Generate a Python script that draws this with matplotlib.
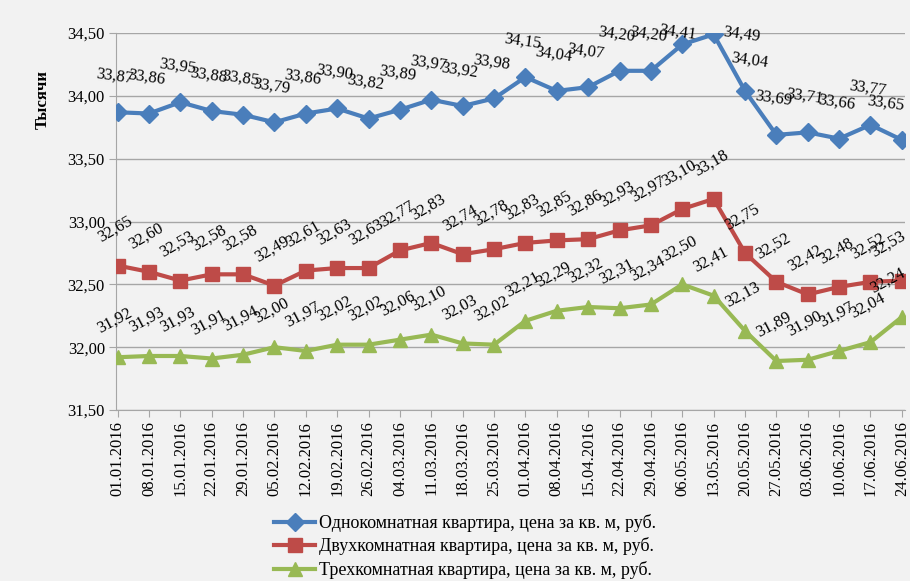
import matplotlib
matplotlib.use("Agg")
import matplotlib.pyplot as plt

plt.rcParams['font.family'] = ['Liberation Serif', 'DejaVu Serif']

dates = ["01.01.2016", "08.01.2016", "15.01.2016", "22.01.2016", "29.01.2016",
         "05.02.2016", "12.02.2016", "19.02.2016", "26.02.2016", "04.03.2016",
         "11.03.2016", "18.03.2016", "25.03.2016", "01.04.2016", "08.04.2016",
         "15.04.2016", "22.04.2016", "29.04.2016", "06.05.2016", "13.05.2016",
         "20.05.2016", "27.05.2016", "03.06.2016", "10.06.2016", "17.06.2016",
         "24.06.2016"]

one_room = [33.87, 33.86, 33.95, 33.88, 33.85, 33.79, 33.86, 33.90, 33.82, 33.89,
            33.97, 33.92, 33.98, 34.15, 34.04, 34.07, 34.20, 34.20, 34.41, 34.49,
            34.04, 33.69, 33.71, 33.66, 33.77, 33.65]
two_room = [32.65, 32.60, 32.53, 32.58, 32.58, 32.49, 32.61, 32.63, 32.63, 32.77,
            32.83, 32.74, 32.78, 32.83, 32.85, 32.86, 32.93, 32.97, 33.10, 33.18,
            32.75, 32.52, 32.42, 32.48, 32.52, 32.53]
three_room = [31.92, 31.93, 31.93, 31.91, 31.94, 32.00, 31.97, 32.02, 32.02, 32.06,
              32.10, 32.03, 32.02, 32.21, 32.29, 32.32, 32.31, 32.34, 32.50, 32.41,
              32.13, 31.89, 31.90, 31.97, 32.04, 32.24]

series = [
    ("Однокомнатная квартира, цена за кв. м, руб.", one_room, "#4A7EBB", "D", 9, -8),
    ("Двухкомнатная квартира, цена за кв. м, руб.", two_room, "#BE4B48", "s", 10, 30),
    ("Трехкомнатная квартира, цена за кв. м, руб.", three_room, "#98B954", "^", 10, 28),
]

# labels near the chart edges are shifted so they stay inside
special_offsets = {(0, 18): (-3, 9), (0, 19): (20, 0), (0, 20): (3, 22),
                   (0, 25): (-12, 26), (1, 25): (-10, 26), (2, 25): (-10, 26)}

bg = "#F2F2F2"
fig = plt.figure(figsize=(9.1, 5.81), dpi=100, facecolor=bg)
ax = fig.add_axes([0.1275, 0.2943, 0.867, 0.6487], facecolor=bg)

x = list(range(len(dates)))
for si, (name, vals, col, mk, ms, rot) in enumerate(series):
    ax.plot(x, vals, color=col, lw=3, marker=mk, markersize=ms, label=name, zorder=3)
    for xi, v in zip(x, vals):
        off = special_offsets.get((si, xi), (-2, 26))
        ax.annotate(f"{v:.2f}".replace(".", ","), (xi, v), xytext=off,
                    textcoords="offset points", ha="center", va="center",
                    rotation=rot, fontsize=12, color="black", zorder=4)

ax.set_ylim(31.5, 34.5)
ax.set_xlim(-0.05, len(dates) - 0.9)
yt = [31.5, 32.0, 32.5, 33.0, 33.5, 34.0, 34.5]
ax.set_yticks(yt)
ax.set_yticklabels([f"{v:.2f}".replace(".", ",") for v in yt], fontsize=12)
ax.set_xticks(x)
ax.set_xticklabels(dates, rotation=90, fontsize=12)
ax.grid(axis="y", color="#A6A6A6", lw=1)
ax.set_axisbelow(True)
for s in ["top", "right"]:
    ax.spines[s].set_visible(False)
for s in ["left", "bottom"]:
    ax.spines[s].set_color("#A6A6A6")
ax.tick_params(axis="both", color="#A6A6A6", length=5, pad=3)

fig.text(0.047, 0.828, "Тысячи", rotation=90, fontsize=12, fontweight="bold",
         ha="center", va="center")

fig.legend(loc="upper center", bbox_to_anchor=(465 / 910, 1 - 514 / 581), ncol=1,
           frameon=False, fontsize=13, handlelength=2.3, labelspacing=0.3,
           handletextpad=0.2, borderaxespad=0, borderpad=0)

fig.savefig("out.png", dpi=100, facecolor=bg)
